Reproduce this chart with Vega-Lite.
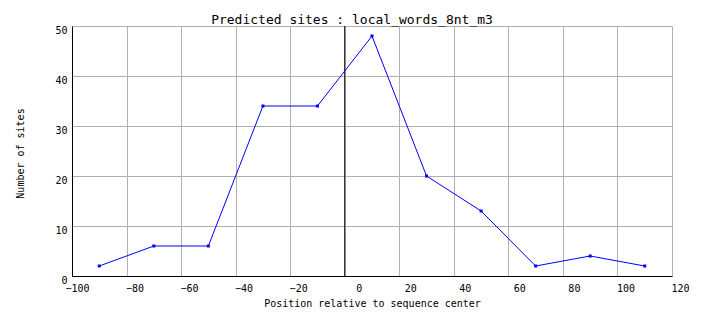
{
  "$schema": "https://vega.github.io/schema/vega-lite/v6.json",
  "width": 600,
  "height": 250,
  "autosize": {"type": "none"},
  "padding": {"left": 72, "top": 26, "right": 32, "bottom": 52},
  "background": "white",
  "title": {
    "text": "Predicted sites : local_words_8nt_m3",
    "font": "DejaVu Sans Mono",
    "fontSize": 13,
    "fontWeight": "normal",
    "color": "black",
    "anchor": "middle",
    "dx": -20,
    "dy": 6,
    "offset": 4
  },
  "config": {
    "view": {"stroke": null},
    "axis": {
      "labelFont": "DejaVu Sans Mono",
      "labelFontSize": 10,
      "labelColor": "black",
      "titleFont": "DejaVu Sans Mono",
      "titleFontSize": 10,
      "titleFontWeight": "normal",
      "titleColor": "black",
      "gridColor": "#b0b0b0",
      "gridOpacity": 1,
      "domainColor": "black",
      "ticks": false
    }
  },
  "datasets": {
    "sites": [
      {"position": -90, "count": 2},
      {"position": -70, "count": 6},
      {"position": -50, "count": 6},
      {"position": -30, "count": 34},
      {"position": -10, "count": 34},
      {"position": 10, "count": 48},
      {"position": 30, "count": 20},
      {"position": 50, "count": 13},
      {"position": 70, "count": 2},
      {"position": 90, "count": 4},
      {"position": 110, "count": 2}
    ],
    "center": [{"position": 0}]
  },
  "layer": [
    {
      "data": {"name": "center"},
      "mark": {"type": "rule", "color": "black", "strokeWidth": 1},
      "encoding": {
        "x": {
          "field": "position",
          "type": "quantitative",
          "scale": {"domain": [-100, 120], "nice": false, "zero": false},
          "axis": {
            "title": "Position relative to sequence center",
            "values": [-100, -80, -60, -40, -20, 0, 20, 40, 60, 80, 100, 120],
            "labelAlign": "right",
            "labelOffset": 17,
            "labelPadding": 7,
            "labelBaseline": "top",
            "labelFlush": false,
            "labelOverlap": false,
            "titleY": 30,
            "titleBaseline": "alphabetic"
          }
        }
      }
    },
    {
      "data": {"name": "sites"},
      "mark": {"type": "line", "color": "#0000ff", "strokeWidth": 1},
      "encoding": {
        "x": {"field": "position", "type": "quantitative"},
        "y": {
          "field": "count",
          "type": "quantitative",
          "scale": {"domain": [0, 50], "nice": false},
          "axis": {
            "title": "Number of sites",
            "values": [0, 10, 20, 30, 40, 50],
            "labelPadding": 5,
            "labelOffset": 4,
            "labelFlush": false,
            "labelOverlap": false,
            "titleX": -49,
            "titleY": 127,
            "titleAlign": "center",
            "titleBaseline": "alphabetic"
          }
        }
      }
    },
    {
      "data": {"name": "sites"},
      "mark": {"type": "square", "color": "#0000ff", "size": 9, "filled": true, "opacity": 1},
      "encoding": {
        "x": {"field": "position", "type": "quantitative"},
        "y": {"field": "count", "type": "quantitative"}
      }
    }
  ]
}
